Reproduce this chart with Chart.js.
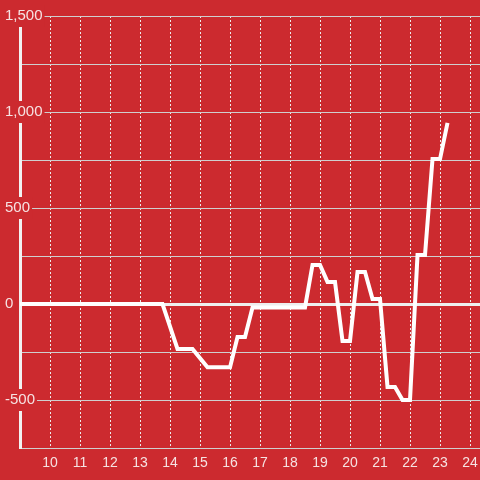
<!DOCTYPE html>
<html>
<head>
<meta charset="utf-8">
<script src="https://cdn.jsdelivr.net/npm/chart.js@4/dist/chart.umd.min.js"></script>
<style>
html,body{margin:0;padding:0;background:#cc2a2f;}
canvas{display:block;}
</style>
</head>
<body>
<canvas id="chart" width="480" height="480"></canvas>
<script>
const RED='#cc2a2f';

// hour of day (x) and value (y) at each corner of the line
const hours=[9,13.75,14.25,14.75,15.25,16,16.25,16.5,16.75,18.5,18.75,19,19.25,19.5,19.75,20,20.25,20.5,20.75,21,21.25,21.5,21.75,22,22.25,22.5,22.75,23,23.25];
const values=[0,0,-234,-234,-330,-330,-172,-172,-18,-18,203,203,115,115,-193,-193,167,167,26,26,-432,-432,-500,-500,255,255,755,755,943];

const xMin=9,xMax=24.333,xStep=1;
const yMin=-750,yMax=1500,yStep=250,yLabelStep=500;

const points=hours.map((h,i)=>({x:h,y:values[i]}));

Chart.defaults.font.family='"Liberation Sans", Arial, sans-serif';
Chart.defaults.font.size=14;

new Chart(document.getElementById('chart'),{
 type:'line',
 data:{datasets:[{data:points,borderColor:'#ffffff',borderWidth:4,pointRadius:0,tension:0,borderJoinStyle:'miter',fill:false}]},
 options:{
  responsive:false,animation:false,
  layout:{padding:{left:5,top:16,right:0,bottom:0}},
  plugins:{legend:{display:false},tooltip:{enabled:false}},
  scales:{
   x:{type:'linear',min:xMin,max:xMax,
    afterFit:s=>{s.height=32;s.paddingLeft=0;s.paddingRight=0;},
    grid:{color:'#ececec',lineWidth:1,drawTicks:false},
    border:{display:true,color:'#cfcfcf',width:1,dash:[2,2]},
    ticks:{stepSize:xStep,includeBounds:false,padding:7,color:'#f6e2e2',autoSkip:false,maxRotation:0,
     callback:v=>v<10?'':String(v)}},
   y:{min:yMin,max:yMax,
    afterFit:s=>{s.width=15;s.paddingTop=0;s.paddingBottom=0;},
    grid:{drawTicks:false,color:c=>c.tick&&c.tick.value===0?'#eeeeee':'#cfcfcf',lineWidth:c=>c.tick&&c.tick.value===0?3:1},
    border:{display:true,color:'#f2f2f2',width:3},
    ticks:{stepSize:yStep,mirror:true,crossAlign:'near',padding:-15,color:'#f6e2e2',font:{size:15},
     showLabelBackdrop:true,backdropPadding:2,
     backdropColor:c=>c.tick&&c.tick.value%yLabelStep===0?RED:'rgba(0,0,0,0)',
     callback:v=>v%yLabelStep===0?v.toLocaleString('en-US'):''}}
  }
 }
});
</script>
</body>
</html>
